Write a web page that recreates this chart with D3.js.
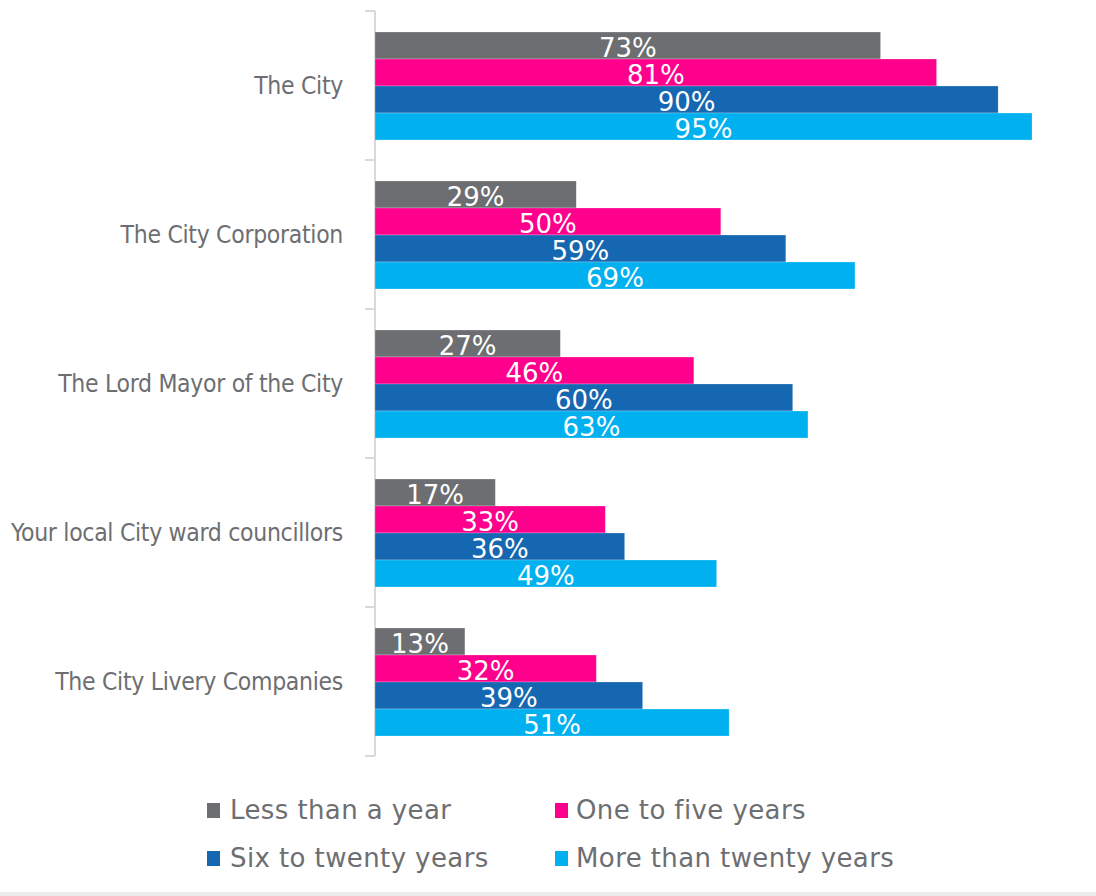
<!DOCTYPE html>
<html><head><meta charset="utf-8">
<script src="https://cdn.jsdelivr.net/npm/d3@7"></script>
<style>body{margin:0;background:#fff}svg{display:block}</style>
</head><body>
<script>
const categories = ["The City","The City Corporation","The Lord Mayor of the City","Your local City ward councillors","The City Livery Companies"];
const seriesNames = ["Less than a year","One to five years","Six to twenty years","More than twenty years"];
const lessThanYear = [73.1,29.1,26.8,17.4,13];
const oneToFive = [81.2,50,46.1,33.3,32];
const sixToTwenty = [90.1,59.4,60.4,36.1,38.7];
const moreThanTwenty = [95,69.4,62.6,49.4,51.2];
const colors = ["#6d6e71","#ff008c","#1467b0","#00b0ef"];
const seriesValues = [lessThanYear, oneToFive, sixToTwenty, moreThanTwenty];

const W=1096,H=896;
const svg=d3.select("body").append("svg").attr("width",W).attr("height",H);
const x=d3.scaleLinear().domain([0,100]).range([375,1066.6]);
const y=d3.scaleBand().domain(categories).range([11,756]);
const inner=d3.scaleBand().domain(seriesNames).range([21,129]);
const fmt=v=>Math.round(v)+"%";

// axis
const ax=svg.append("g").attr("transform","translate(375,0)")
  .call(d3.axisLeft(y).tickSize(0).tickFormat(""));
ax.select(".domain").remove();
ax.append("line").attr("x1",0).attr("x2",0).attr("y1",11).attr("y2",756).attr("stroke","#d9d9d9").attr("stroke-width",2);
const edges=[...categories.map(c=>y(c)),756];
ax.selectAll("line.tk").data(edges).enter().append("line").attr("class","tk")
  .attr("x1",-10).attr("x2",0).attr("y1",d=>d).attr("y2",d=>d).attr("stroke","#d9d9d9").attr("stroke-width",2);

svg.selectAll("text.cat").data(categories).enter().append("text").attr("class","cat")
  .attr("x",343).attr("y",d=>y(d)+y.bandwidth()/2).attr("dy","0.35em")
  .attr("text-anchor","end").attr("font-family","DejaVu Sans Condensed, DejaVu Sans").attr("font-size",24.5)
  .attr("letter-spacing","-0.3px").attr("fill","#6d6e71").text(d=>d);

seriesNames.forEach((s,si)=>{
  const vals=seriesValues[si];
  const g=svg.append("g");
  g.selectAll("rect").data(categories).enter().append("rect")
    .attr("x",x(0)).attr("y",(d)=>y(d)+inner(s)).attr("width",(d,i)=>x(vals[i])-x(0))
    .attr("height",inner.bandwidth()).attr("fill",colors[si]).attr("stroke","#fff").attr("stroke-opacity",0.4).attr("stroke-width",0.6);
  g.selectAll("text").data(categories).enter().append("text")
    .attr("x",(d,i)=>(x(vals[i])+x(0))/2).attr("y",d=>y(d)+inner(s)+inner.bandwidth()-2)
    .attr("text-anchor","middle").attr("font-family","DejaVu Sans").attr("font-size",26)
    .attr("fill","#fff").text((d,i)=>fmt(vals[i]));
});

// legend
const leg=[{x:207,y:810},{x:555,y:810},{x:207,y:858},{x:555,y:858}];
seriesNames.forEach((s,i)=>{
  svg.append("rect").attr("x",leg[i].x).attr("y",leg[i].y-7).attr("width",13).attr("height",15).attr("fill",colors[i]);
  svg.append("text").attr("x",leg[i].x+(i%2?21:23)).attr("y",leg[i].y).attr("dy","0.35em")
    .attr("font-family","DejaVu Sans").attr("font-size",26).attr("letter-spacing","0.4px").attr("fill","#6d6e71").text(s);
});
svg.append("rect").attr("x",0).attr("y",892).attr("width",W).attr("height",4).attr("fill","#ececec");
</script>
</body></html>
